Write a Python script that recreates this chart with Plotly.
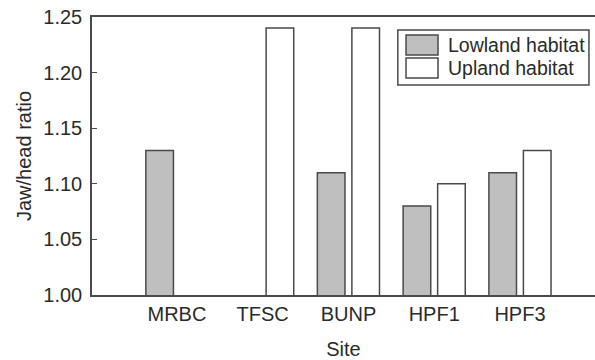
import plotly.graph_objects as go

sites = ["MRBC", "TFSC", "BUNP", "HPF1", "HPF3"]
lowland = [1.13, None, 1.11, 1.08, 1.11]
upland = [None, 1.24, 1.24, 1.10, 1.13]
series_names = ["Lowland habitat", "Upland habitat"]
y_ticks = [1.00, 1.05, 1.10, 1.15, 1.20, 1.25]

FONT = "Liberation Sans, Arial, sans-serif"
TXT = "#2a2a2a"
EDGE = "#4a4a4a"
GRAY = "#bfbfbf"
FS = 20

fig = go.Figure()
fig.add_trace(go.Bar(x=sites, y=lowland, name=series_names[0],
                     marker=dict(color=GRAY, line=dict(color=EDGE, width=1.5)),
                     showlegend=False))
fig.add_trace(go.Bar(x=sites, y=upland, name=series_names[1],
                     marker=dict(color="white", line=dict(color=EDGE, width=1.5)),
                     showlegend=False))

# custom legend (box, swatches, labels) in paper coordinates
fig.add_shape(type="rect", xref="paper", yref="paper", x0=0.608, x1=0.988, y0=0.755, y1=0.953,
              line=dict(color=EDGE, width=1.5), fillcolor="white", layer="above")
sw = [(0.935, 0.863, GRAY), (0.8525, 0.7806, "white")]
for (ya, yb, c), nm in zip(sw, series_names):
    fig.add_shape(type="rect", xref="paper", yref="paper", x0=0.6243, x1=0.6879, y0=yb, y1=ya,
                  line=dict(color=EDGE, width=1.5), fillcolor=c, layer="above")
    fig.add_annotation(xref="paper", yref="paper", x=0.704, y=(ya + yb) / 2, text=nm,
                       showarrow=False, xanchor="left", yanchor="middle",
                       font=dict(family=FONT, size=19.5, color=TXT))

fig.update_layout(
    width=595, height=360,
    margin=dict(l=92, r=0, t=17, b=65),
    paper_bgcolor="white", plot_bgcolor="white",
    barmode="group", bargap=0.195, bargroupgap=0.2,
    font=dict(family=FONT, size=FS, color=TXT),
    xaxis=dict(type="category", range=[-0.99, 4.875], showline=True, linecolor=EDGE, linewidth=1.5,
               mirror=True, ticks="", showgrid=False, zeroline=False,
               title=dict(text="Site", standoff=19, font=dict(size=FS))),
    yaxis=dict(range=[1.0, 1.25], tickvals=y_ticks, ticktext=[f"{v:.2f}" for v in y_ticks],
               showline=True, linecolor=EDGE, linewidth=1.5, ticks="inside", ticklen=5,
               tickcolor=EDGE, showgrid=False, zeroline=False, ticklabelstandoff=4,
               ticklabeloverflow="allow",
               title=dict(text="Jaw/head ratio", standoff=6, font=dict(size=FS))),
)

# remove the page's default 8px body margin so the figure sits at the window's top-left corner
fig.write_html("out.html", config={"displayModeBar": False},
               post_script="document.body.style.margin='0px';")
